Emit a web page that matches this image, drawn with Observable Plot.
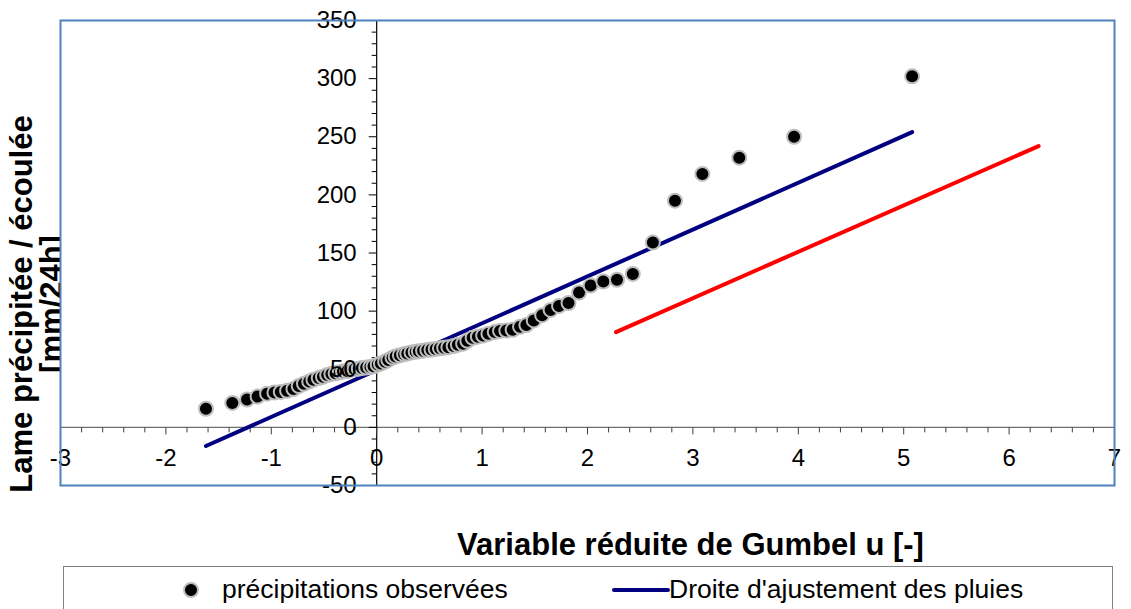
<!DOCTYPE html>
<html>
<head>
<meta charset="utf-8">
<script src="https://cdn.jsdelivr.net/npm/d3@7"></script>
<script src="https://cdn.jsdelivr.net/npm/@observablehq/plot@0.6"></script>
<style>
  body { margin: 0; background: #fff; font-family: "Liberation Sans", Arial, sans-serif; }
  #chart svg { display: block; }
  #legend { position: relative; margin-left: 63px; margin-top: 4px; width: 1050px; height: 50px;
            border: 1px solid #808080; box-sizing: border-box; font-size: 26.5px; color: #000; }
  #legend .it { position: absolute; top: 8px; line-height: 28px; white-space: nowrap; }
  #legend svg { position: absolute; }
</style>
</head>
<body>
<div id="chart"></div>
<div id="legend"></div>
<script>
// Gumbel reduced variable u (observed points)
const uObs = [-1.62, -1.37, -1.23, -1.13, -1.04, -0.97, -0.91, -0.85, -0.79, -0.74,
  -0.69, -0.64, -0.60, -0.55, -0.51, -0.47, -0.43, -0.39, -0.35, -0.32,
  -0.28, -0.24, -0.21, -0.17, -0.14, -0.10, -0.06, -0.03, 0.01, 0.04,
  0.08, 0.11, 0.15, 0.18, 0.22, 0.26, 0.29, 0.33, 0.37, 0.40,
  0.44, 0.48, 0.52, 0.56, 0.60, 0.64, 0.68, 0.73, 0.77, 0.82,
  0.86, 0.91, 0.96, 1.01, 1.06, 1.12, 1.17, 1.23, 1.29, 1.36,
  1.42, 1.49, 1.57, 1.65, 1.73, 1.82, 1.92, 2.03, 2.15, 2.28,
  2.43, 2.62, 2.83, 3.09, 3.44, 3.96, 5.08];
// Observed precipitation [mm/24h]
const pObs = [16, 21, 24, 26.5, 29, 30, 30.5, 31.5, 33, 35.5,
  37.5, 39.5, 41, 42.5, 43.5, 45, 46, 46.5, 47.5, 48,
  48.5, 49.5, 50, 50.5, 51, 51.5, 52, 52.5, 54, 55,
  56.5, 58, 60, 61, 62, 63, 63.5, 64.5, 65, 65.5,
  66, 66.5, 67, 67.5, 68, 68.5, 69, 70, 71, 72,
  74.5, 77, 78, 79, 80.5, 82, 83, 83.3, 84, 86.5,
  88, 92, 96.5, 101, 104.5, 107, 116, 122, 125.5, 127,
  132, 159, 195, 218, 232, 250, 302];
// Fitted line (rain)
const fitU = [-1.62, 5.08];
const fitP = [-16, 254];
// Second (red) line
const redU = [2.27, 6.28];
const redP = [82, 242];
// Axis ticks
const xTicks = [-3, -2, -1, 0, 1, 2, 3, 4, 5, 6, 7];
const xMinor = d3.range(-3, 7.001, 0.2).map(v => Math.round(v * 10) / 10);
const yTicks = [-50, 0, 50, 100, 150, 200, 250, 300, 350];
const yMinor = d3.range(-50, 351, 10);
const xTitle = "Variable réduite de Gumbel u [-]";
const yTitle = "Lame précipitée / écoulée\n[mm/24h]";
const legendLabels = ["précipitations observées", "Droite d'ajustement des pluies"];

const points = uObs.map((u, i) => ({u, p: pObs[i]}));
const fit = fitU.map((u, i) => ({u, p: fitP[i]}));
const red = redU.map((u, i) => ({u, p: redP[i]}));

const vTick = len => ({draw(ctx) { ctx.moveTo(0, 0); ctx.lineTo(0, len); }});
const hTick = len => ({draw(ctx) { ctx.moveTo(0, 0); ctx.lineTo(-len, 0); }});

const chart = Plot.plot({
  width: 1131,
  height: 562,
  marginLeft: 60,
  marginRight: 17,
  marginTop: 20,
  marginBottom: 77,
  x: {domain: [-3, 7], axis: null},
  y: {domain: [-50, 350], axis: null},
  style: {fontFamily: "'Liberation Sans', Arial, sans-serif", background: "white", overflow: "visible"},
  marks: [
    Plot.text([yTitle], {frameAnchor: "left", text: d => d, rotate: -90, dx: -23, dy: 51,
      textAnchor: "middle", lineAnchor: "middle",
      fontSize: 31, fontWeight: "bold", lineHeight: 0.95, fill: "black"}),
    Plot.frame({fill: "white", stroke: "none"}),
    Plot.ruleY([0], {stroke: "#707070", strokeWidth: 1.2}),
    Plot.ruleX([0], {stroke: "black", strokeWidth: 1.2}),
    Plot.dot(xMinor.filter(v => !xTicks.includes(v)), {x: d => d, y: 0, symbol: vTick(5), fill: "none", stroke: "#404040", strokeWidth: 1, r: 1}),
    Plot.dot(xTicks, {x: d => d, y: 0, symbol: vTick(7), fill: "none", stroke: "#404040", strokeWidth: 1, r: 1}),
    Plot.dot(yMinor.filter(v => !yTicks.includes(v)), {x: 0, y: d => d, symbol: hTick(5), fill: "none", stroke: "black", strokeWidth: 1, r: 1}),
    Plot.dot(yTicks, {x: 0, y: d => d, symbol: hTick(8), fill: "none", stroke: "black", strokeWidth: 1, r: 1}),
    Plot.line(red, {x: "u", y: "p", stroke: "#ff0000", strokeWidth: 4, strokeLinecap: "round"}),
    Plot.line(fit, {x: "u", y: "p", stroke: "#000080", strokeWidth: 4, strokeLinecap: "round"}),
    Plot.dot(points, {x: "u", y: "p", r: 7, fill: "black", stroke: "#bdbdbd", strokeWidth: 2}),
    Plot.text(yTicks, {x: 0, y: d => d, text: d => String(d), textAnchor: "end", dx: -20, fontSize: 24, fill: "black"}),
    Plot.text(xTicks, {x: d => d, y: 0, text: d => String(d), dy: 31, fontSize: 24, fill: "black"}),
    Plot.text([xTitle], {frameAnchor: "bottom", text: d => d, dx: 103, dy: 60, lineAnchor: "middle",
      fontSize: 31, fontWeight: "bold", fill: "black"}),
    Plot.frame({stroke: "#4f81bd", strokeWidth: 2})
  ]
});
document.getElementById("chart").appendChild(chart);

// Legend
const lg = document.getElementById("legend");
lg.innerHTML = `
  <svg width="20" height="20" style="left:117px;top:13px"><circle cx="10" cy="10" r="7" fill="black" stroke="#bdbdbd" stroke-width="2"/></svg>
  <span class="it" style="left:158px">${legendLabels[0]}</span>
  <svg width="60" height="10" style="left:547px;top:18px"><line x1="3" y1="5" x2="57" y2="5" stroke="#000080" stroke-width="4" stroke-linecap="round"/></svg>
  <span class="it" style="left:605px">${legendLabels[1]}</span>`;
</script>
</body>
</html>
